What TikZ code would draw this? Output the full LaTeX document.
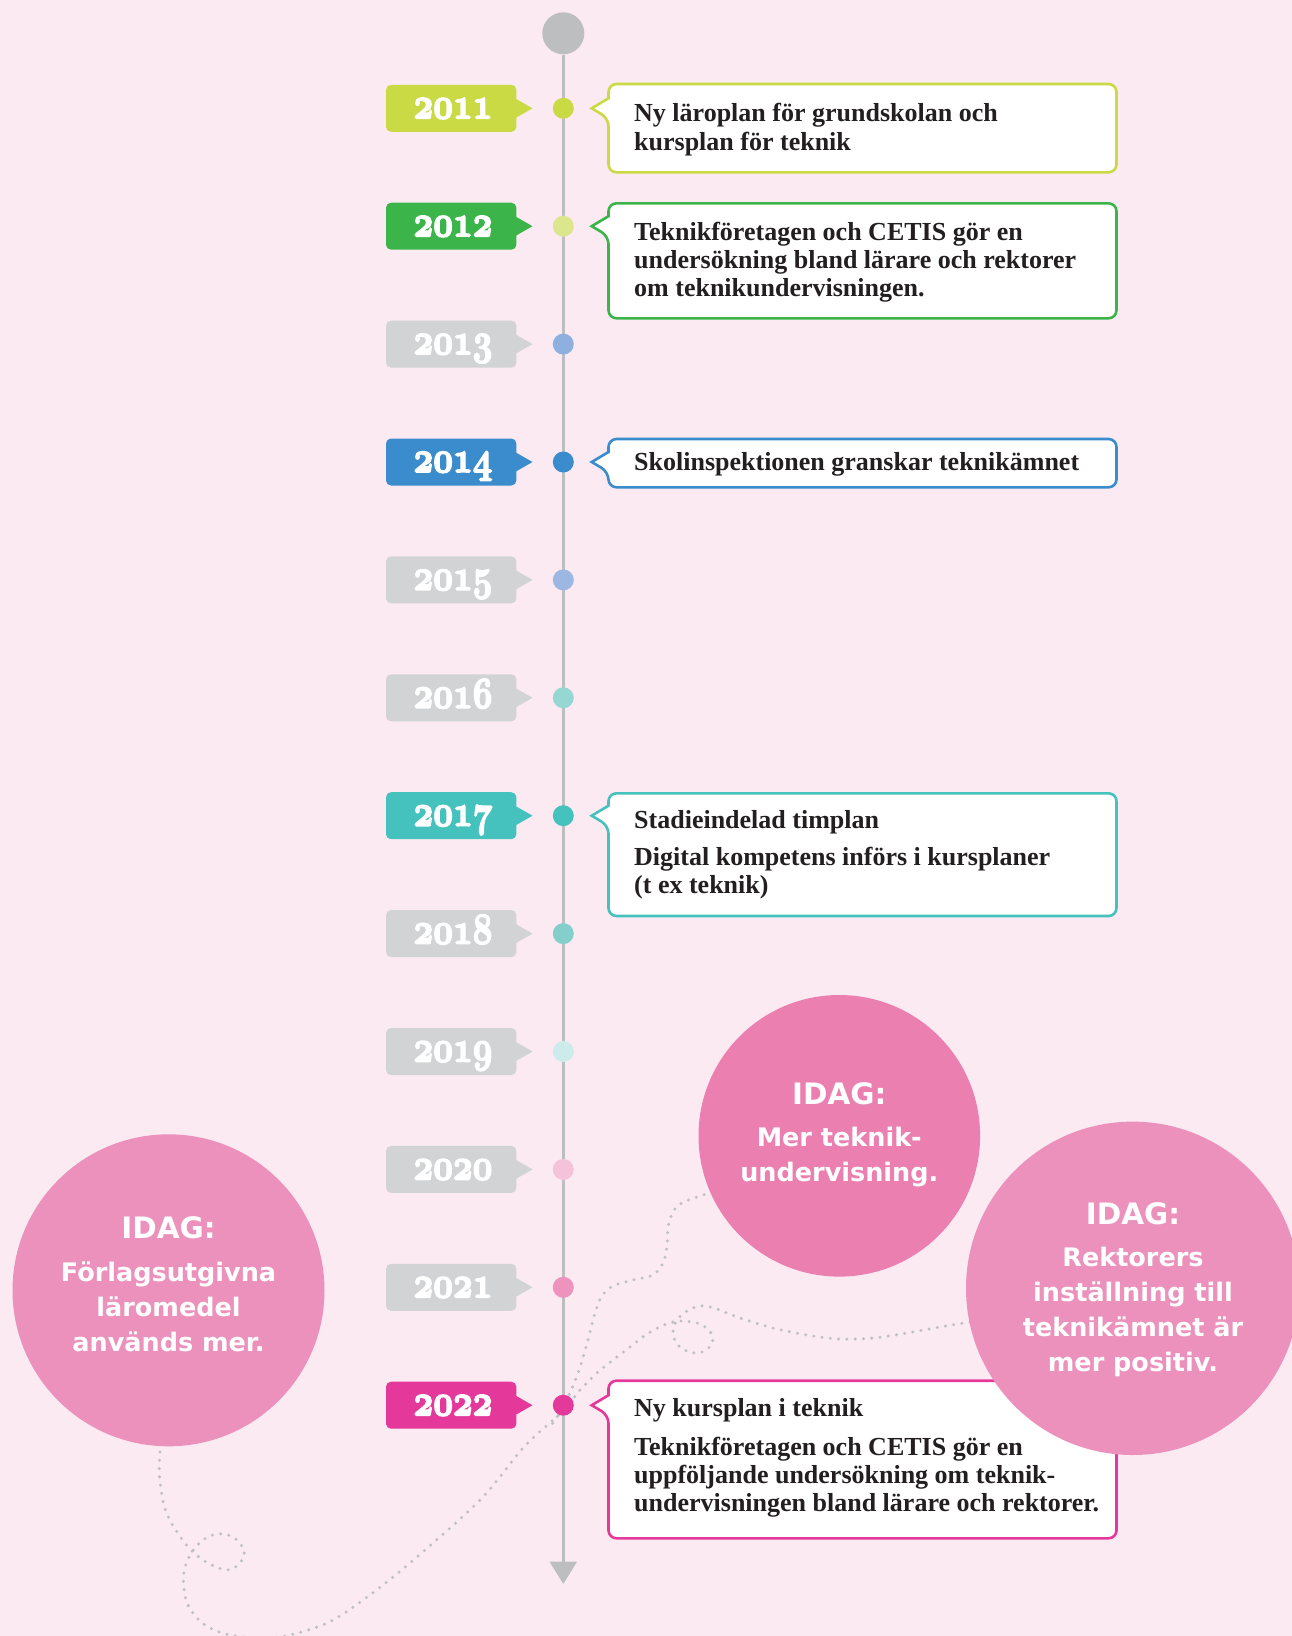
\documentclass[tikz,border=0pt]{standalone}
\usepackage{fontspec}
\setmainfont{Liberation Serif}
\newfontfamily\circfont{DejaVu Sans}
\usepackage{graphicx}
\usetikzlibrary{arrows.meta}
\definecolor{bgpink}{HTML}{FBEAF2}
\definecolor{tlgray}{HTML}{BCBEC0}
\definecolor{dotgray}{HTML}{BEBFC1}
\definecolor{tagraw}{HTML}{D1D3D4}
\definecolor{clime}{HTML}{C9DA45}
\definecolor{climepale}{HTML}{DCE68C}
\definecolor{cgreen}{HTML}{3BB54A}
\definecolor{cblue}{HTML}{3A8CCD}
\definecolor{cblueA}{HTML}{8DB0DF}
\definecolor{cblueB}{HTML}{9CB8E2}
\definecolor{cteal}{HTML}{45C1BE}
\definecolor{ctealA}{HTML}{97D7D3}
\definecolor{ctealB}{HTML}{84CFCB}
\definecolor{ctealC}{HTML}{CDEBEA}
\definecolor{cpinkA}{HTML}{F4C3DA}
\definecolor{cpinkB}{HTML}{EE92BE}
\definecolor{cmag}{HTML}{E4399A}
\definecolor{circA}{HTML}{EA7FB0}
\definecolor{circB}{HTML}{EC91BC}
\definecolor{txtdark}{HTML}{231F20}
\newcommand\oldyr[1]{\scalebox{3.43}[4.4]{\fontsize{10}{10}\fontencoding{OML}\fontfamily{cmm}\fontseries{b}\fontshape{it}\selectfont\special{pdf:code 2 Tr 0.38 w 1 1 1 RG}#1\special{pdf:code 0 Tr}}}
% year tag: colour, y
\newcommand\yrtag[2]{%
  \fill[#1, rounded corners=5pt] (386,#2-23.5) rectangle (516.4,#2+23.5);
  \fill[#1] (515,#2-10) -- (532.5,#2) -- (515,#2+10) -- cycle;}
% callout: colour, y, top, bottom
\newcommand\callout[4]{%
  \draw[line width=2.6pt, draw=#1, fill=white, rounded corners=8pt]
    (860,#3) -- (1116.5,#3) -- (1116.5,#4) -- (608.5,#4) -- (608.5,#2+10)
    [sharp corners] -- (591.7,#2) -- (608.5,#2-10)
    [rounded corners=8pt] -- (608.5,#3) -- cycle;}
\begin{document}
\begin{tikzpicture}[x=1pt,y=-1pt,
  boxtext/.style={anchor=base west, inner sep=0pt, text=txtdark, font=\fontsize{26}{28}\bfseries},
  circtext/.style={anchor=base, inner sep=0pt, text=white, font=\circfont\fontsize{25.5}{30}\bfseries},
  circhead/.style={anchor=base, inner sep=0pt, text=white, font=\circfont\fontsize{29.5}{34}\bfseries},
  yeartxt/.style={anchor=base, inner sep=0pt, text=white},
  tldot/.style={circle, inner sep=0pt, minimum size=21pt},
  bigcirc/.style={circle, inner sep=0pt},
  dotline/.style={draw=dotgray, line width=3.3pt, line cap=round, dash pattern=on 0pt off 8.3pt}]
\useasboundingbox (0,0) rectangle (1292,1636);
\clip (0,0) rectangle (1292,1636);
\fill[bgpink] (0,0) rectangle (1292,1636);

% dotted decorative paths
\draw[dotline] plot[smooth, tension=0.55] coordinates {
 (160,1452) (159.5,1477) (165,1509) (177,1532) (192,1551) (208,1563) (227,1570)
 (240,1563) (244,1550) (233,1537) (217,1534) (203,1540) (192,1552) (185,1567)
 (183.5,1583) (187,1603) (197,1618) (210,1628) (230,1635) (260,1638) (290,1635)
 (333,1620) (383,1585) (433,1543) (483,1497) (523,1448) (553,1420) (567,1407)
 (580,1390) (597,1373) (613,1360) (630,1347) (647,1334) (664,1325) (680,1321)
 (700,1324) (711,1333) (712,1344) (702,1352) (689,1352) (677,1344) (673,1332)
 (677,1320) (687,1311) (700,1306) (714,1308) (740,1318) (773,1328) (807,1335)
 (840,1339) (873,1338) (907,1333) (940,1327) (970,1322)};
\draw[dotline] plot[smooth, tension=0.55] coordinates {
 (712,1192) (697,1197) (680,1204) (672,1214) (668,1228) (667,1247) (663,1263)
 (653,1275) (633,1280) (613,1286) (602,1296) (595,1313) (588,1340) (580,1367)
 (570,1393) (557,1417) (552,1424)};

% timeline
\node[circle, fill=tlgray, inner sep=0pt, minimum size=42pt] (tltop) at (563.3,33.3) {};
\coordinate (tlend) at (563.3,1584);
\draw[tlgray, line width=3.3pt, -{Triangle[width=27pt,length=22.5pt]}] (tltop.south) -- (tlend);

% dots
\node[tldot, fill=clime]     (d2011) at (563.3,108.3) {};
\node[tldot, fill=climepale] (d2012) at (563.3,226.2) {};
\node[tldot, fill=cblueA]    (d2013) at (563.3,344.1) {};
\node[tldot, fill=cblue]     (d2014) at (563.3,462.0) {};
\node[tldot, fill=cblueB]    (d2015) at (563.3,579.9) {};
\node[tldot, fill=ctealA]    (d2016) at (563.3,697.8) {};
\node[tldot, fill=cteal]     (d2017) at (563.3,815.7) {};
\node[tldot, fill=ctealB]    (d2018) at (563.3,933.6) {};
\node[tldot, fill=ctealC]    (d2019) at (563.3,1051.5) {};
\node[tldot, fill=cpinkA]    (d2020) at (563.3,1169.4) {};
\node[tldot, fill=cpinkB]    (d2021) at (563.3,1287.3) {};
\node[tldot, fill=cmag]      (d2022) at (563.3,1405.2) {};

% year tags
\yrtag{clime}{108.3}
\yrtag{cgreen}{226.2}
\yrtag{tagraw}{344.1}
\yrtag{cblue}{462.0}
\yrtag{tagraw}{579.9}
\yrtag{tagraw}{697.8}
\yrtag{cteal}{815.7}
\yrtag{tagraw}{933.6}
\yrtag{tagraw}{1051.5}
\yrtag{tagraw}{1169.4}
\yrtag{tagraw}{1287.3}
\yrtag{cmag}{1405.2}
\node[yeartxt] (y2011) at (453,118.3) {\oldyr{2011}};
\node[yeartxt] (y2012) at (453,236.2) {\oldyr{2012}};
\node[yeartxt] (y2013) at (453,354.1) {\oldyr{2013}};
\node[yeartxt] (y2014) at (453,472.0) {\oldyr{2014}};
\node[yeartxt] (y2015) at (453,589.9) {\oldyr{2015}};
\node[yeartxt] (y2016) at (453,707.8) {\oldyr{2016}};
\node[yeartxt] (y2017) at (453,825.7) {\oldyr{2017}};
\node[yeartxt] (y2018) at (453,943.6) {\oldyr{2018}};
\node[yeartxt] (y2019) at (453,1061.5) {\oldyr{2019}};
\node[yeartxt] (y2020) at (453,1179.4) {\oldyr{2020}};
\node[yeartxt] (y2021) at (453,1297.3) {\oldyr{2021}};
\node[yeartxt] (y2022) at (453,1415.2) {\oldyr{2022}};

% callout boxes
\callout{clime}{108.3}{84}{172.3}
\node[boxtext] (b11a) at (634,121.7) {Ny läroplan för grundskolan och};
\node[boxtext] (b11b) at (634,150) {kursplan för teknik};

\callout{cgreen}{226.2}{203.3}{318.3}
\node[boxtext] (b12a) at (634,240) {Teknikföretagen och CETIS gör en};
\node[boxtext] (b12b) at (634,268.3) {undersökning bland lärare och rektorer};
\node[boxtext] (b12c) at (634,296.7) {om teknikundervisningen.};

\callout{cblue}{462.0}{439}{487.3}
\node[boxtext] (b14a) at (634,470.7) {Skolinspektionen granskar teknikämnet};

\callout{cteal}{815.7}{793.3}{916}
\node[boxtext] (b17a) at (634,828.3) {Stadieindelad timplan};
\node[boxtext] (b17b) at (634,865) {Digital kompetens införs i kursplaner};
\node[boxtext] (b17c) at (634,893.3) {(t ex teknik)};

\callout{cmag}{1405.2}{1380.7}{1538.3}
\node[boxtext] (b22a) at (634,1416.7) {Ny kursplan i teknik};
\node[boxtext] (b22b) at (634,1455) {Teknikföretagen och CETIS gör en};
\node[boxtext] (b22c) at (634,1483.3) {uppföljande undersökning om teknik-};
\node[boxtext] (b22d) at (634,1511.7) {undervisningen bland lärare och rektorer.};

% IDAG circles
\node[bigcirc, fill=circB, minimum size=312pt] (cL) at (168.5,1290.3) {};
\node[circhead] (cLh) at (168.5,1238.3) {IDAG:};
\node[circtext] (cL1) at (168.5,1281.7) {Förlagsutgivna};
\node[circtext] (cL2) at (168.5,1316.7) {läromedel};
\node[circtext] (cL3) at (168.5,1351.7) {används mer.};

\node[bigcirc, fill=circA, minimum size=281.6pt] (cM) at (839.3,1135.8) {};
\node[circhead] (cMh) at (839.3,1104) {IDAG:};
\node[circtext] (cM1) at (839.3,1146.7) {Mer teknik-};
\node[circtext] (cM2) at (839.3,1181.7) {undervisning.};

\node[bigcirc, fill=circB, minimum size=333.4pt] (cR) at (1132.7,1288.3) {};
\node[circhead] (cRh) at (1133,1224) {IDAG:};
\node[circtext] (cR1) at (1133,1266.7) {Rektorers};
\node[circtext] (cR2) at (1133,1301.7) {inställning till};
\node[circtext] (cR3) at (1133,1336.7) {teknikämnet är};
\node[circtext] (cR4) at (1133,1371.7) {mer positiv.};
\end{tikzpicture}
\end{document}
